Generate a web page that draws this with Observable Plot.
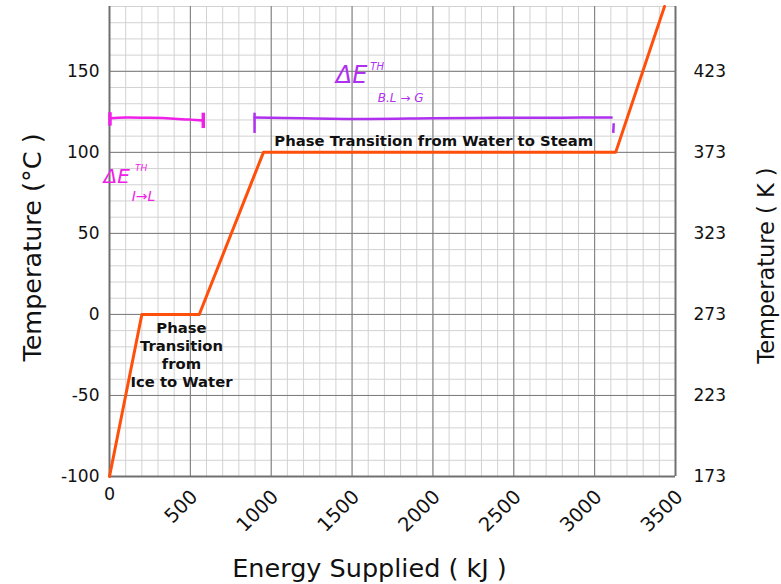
<!DOCTYPE html>
<html>
<head>
<meta charset="utf-8">
<script src="https://cdn.jsdelivr.net/npm/d3@7"></script>
<script src="https://cdn.jsdelivr.net/npm/@observablehq/plot@0.6"></script>
<style>
  html, body { margin: 0; padding: 0; background: #fff; }
  svg { font-family: "DejaVu Sans", sans-serif; }
</style>
</head>
<body>
<div id="chart"></div>
<script>
// Heating curve data (energy supplied in kJ, temperature in °C)
const energy = [0, 200, 555, 952, 3130, 3432];
const tempC  = [-100, 0, 0, 100, 100, 190];

// Axis ticks
const xTicks = [500, 1000, 1500, 2000, 2500, 3000, 3500];
const xTickZero = [0];
const yTicks = [-100, -50, 0, 50, 100, 150];
const xMinor = d3.range(0, 3501, 100);
const yMinor = d3.range(-100, 191, 10);
const xMajor = d3.range(0, 3501, 500);
const yMajor = d3.range(-100, 191, 50);

// Text annotations
const phaseLabels = ["Phase Transition from Water to Steam", "Phase\nTransition\nfrom\nIce to Water"];
const phaseX = [2005, 445];
const phaseY = [107.5, -24.5];

// Hand-drawn bracket annotations
const magentaX = [3, 100, 250, 400, 500, 580];
const magentaY = [121, 121.5, 121.3, 120.8, 120.2, 119.6];
const magentaTickX = [[3, 3], [580, 580]];
const magentaTickY = [[116.5, 124.8], [115, 124.5]];
const purpleX = [897, 1200, 1600, 2000, 2400, 2800, 3105];
const purpleY = [121.5, 121, 120.6, 121, 121.3, 121.4, 121.5];
const purpleTickX = [[897, 897], [3118, 3115]];
const purpleTickY = [[112, 124.5], [118, 112]];
const handText = ["ΔE", "TH", "I→L", "ΔE", "TH", "B.L → G"];
const handX = [45, 195, 210, 1497, 1655, 1800];
const handY = [85, 90, 73, 147.5, 153, 133.5];
const handSize = [20, 9, 14, 24, 10, 12];
const handColor = ["#f020e8", "#f020e8", "#f020e8", "#b030f0", "#b030f0", "#b030f0"];

const data = energy.map((e, i) => ({e, t: tempC[i]}));
const ann = phaseLabels.map((s, i) => ({s, x: phaseX[i], y: phaseY[i]}));
const hand = handText.map((s, i) => ({s, x: handX[i], y: handY[i], size: handSize[i], c: handColor[i]}));
const mag = magentaX.map((x, i) => ({x, y: magentaY[i]}));
const pur = purpleX.map((x, i) => ({x, y: purpleY[i]}));
const ticksSeg = (xs, ys) => xs.map((xx, i) => ({x1: xx[0], x2: xx[1], y1: ys[i][0], y2: ys[i][1]}));

const chart = Plot.plot({
  width: 781,
  height: 584,
  marginLeft: 109,
  marginRight: 106,
  marginTop: 6,
  marginBottom: 108,
  x: {domain: [0, 3500]},
  y: {domain: [-100, 190]},
  style: {fontFamily: "DejaVu Sans", background: "#fff"},
  marks: [
    Plot.ruleX(xMinor, {stroke: "#d2d2d2", strokeWidth: 1, strokeOpacity: 1}),
    Plot.ruleY(yMinor, {stroke: "#d2d2d2", strokeWidth: 1, strokeOpacity: 1}),
    Plot.ruleX(xMajor, {stroke: "#7a7a7a", strokeWidth: 1, strokeOpacity: 1}),
    Plot.ruleY(yMajor, {stroke: "#7a7a7a", strokeWidth: 1, strokeOpacity: 1}),
    Plot.ruleX([0, 3500], {stroke: "#707070", strokeWidth: 2}),
    Plot.ruleY([-100], {stroke: "#707070", strokeWidth: 2}),
    Plot.axisY({ticks: yTicks, tickFormat: d => String(d), tickSize: 0, tickPadding: 10, label: null, fontSize: 17, fill: "#111"}),
    Plot.axisY({anchor: "right", ticks: yTicks, tickFormat: d => String(d + 273), tickSize: 0, tickPadding: 18, label: null, fontSize: 17, fill: "#111"}),
    Plot.axisX({ticks: xTicks, tickFormat: d => String(d), tickSize: 0, tickPadding: 8, tickRotate: -45, label: null, fontSize: 19.5, fill: "#111", dx: 4, dy: 9}),
    Plot.axisX({ticks: xTickZero, tickFormat: d => String(d), tickSize: 0, tickPadding: 11, label: null, fontSize: 17.5, fill: "#111"}),
    Plot.text(["Energy Supplied ( kJ )"], {frameAnchor: "bottom", textAnchor: "middle", dy: 100, dx: -23, fontSize: 25.5, fill: "#111"}),
    Plot.text(["Temperature (°C )"], {frameAnchor: "left", textAnchor: "middle", rotate: -90, dx: -77, dy: 6, fontSize: 25.5, fill: "#111"}),
    Plot.text(["Temperature ( K )"], {frameAnchor: "right", textAnchor: "middle", rotate: -90, dx: 91, dy: 24, fontSize: 22.5, fill: "#111"}),
    Plot.line(data, {x: "e", y: "t", stroke: "#ff4f0a", strokeWidth: 3}),
    Plot.text(ann, {x: "x", y: "y", text: "s", fontWeight: "bold", fontSize: 14.8, fill: "#111", lineHeight: 1.22, lineAnchor: "middle"}),
    Plot.line(mag, {x: "x", y: "y", stroke: "#f020e8", strokeWidth: 2.5, curve: "catmull-rom"}),
    Plot.link(ticksSeg(magentaTickX, magentaTickY), {x1: "x1", x2: "x2", y1: "y1", y2: "y2", stroke: "#f020e8", strokeWidth: 3.5}),
    Plot.line(pur, {x: "x", y: "y", stroke: "#b030f0", strokeWidth: 2.5, curve: "catmull-rom"}),
    Plot.link(ticksSeg(purpleTickX, purpleTickY), {x1: "x1", x2: "x2", y1: "y1", y2: "y2", stroke: "#b030f0", strokeWidth: 2.5}),
    Plot.text(hand, {x: "x", y: "y", text: "s", fontSize: "size", fill: "c", fontStyle: "italic"})
  ]
});
document.getElementById("chart").appendChild(chart);
</script>
</body>
</html>
